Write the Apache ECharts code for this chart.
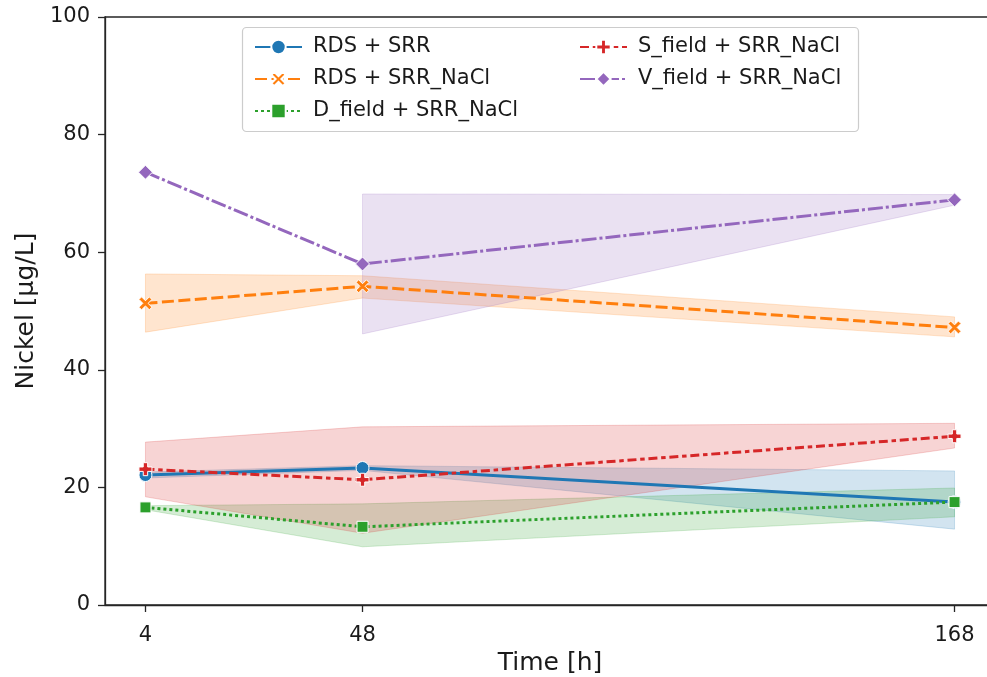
<!DOCTYPE html>
<html>
<head>
<meta charset="utf-8">
<script src="https://cdn.jsdelivr.net/npm/echarts@6/dist/echarts.min.js"></script>
<style>
  html, body { margin: 0; padding: 0; background: #fff; }
  #chart { width: 987px; height: 677px; }
</style>
</head>
<body>
<div id="chart"></div>
<script>
// time points [h]
var times = [4, 48, 168];
var xTicks = [4, 48, 168];

// mean values per series
var rdsSrr = [22.1, 23.3, 17.5];
var rdsSrrNacl = [51.3, 54.2, 47.2];
var dFieldNacl = [16.6, 13.3, 17.5];
var sFieldNacl = [23.1, 21.3, 28.7];
var vFieldNacl = [73.6, 58.0, 68.9];

// error band lower / upper
var rdsSrrLo = [21.6, 22.9, 12.9];
var rdsSrrHi = [22.6, 23.7, 22.8];
var rdsSrrNaclLo = [46.4, 52.2, 45.6];
var rdsSrrNaclHi = [56.3, 56.0, 49.0];
var dFieldNaclLo = [16.2, 9.9, 15.0];
var dFieldNaclHi = [16.9, 17.2, 19.9];
var sFieldNaclLo = [18.4, 12.2, 26.7];
var sFieldNaclHi = [27.7, 30.3, 30.9];
var vFieldNaclLo = [null, 46.1, 68.0];
var vFieldNaclHi = [null, 69.9, 69.8];

var FONT = '"DejaVu Sans", sans-serif';

var symX = 'path://M-1,-0.6 L-0.6,-1 L0,-0.4 L0.6,-1 L1,-0.6 L0.4,0 L1,0.6 L0.6,1 L0,0.4 L-0.6,1 L-1,0.6 L-0.4,0 Z';
var symP = 'path://M-0.34,-1 L0.34,-1 L0.34,-0.34 L1,-0.34 L1,0.34 L0.34,0.34 L0.34,1 L-0.34,1 L-0.34,0.34 L-1,0.34 L-1,-0.34 L-0.34,-0.34 Z';

var defs = [
  { name: 'RDS + SRR', color: '#1f77b4', vals: rdsSrr, lo: rdsSrrLo, hi: rdsSrrHi, dash: 'solid', symbol: 'circle', size: 13 },
  { name: 'RDS + SRR_NaCl', color: '#ff7f0e', vals: rdsSrrNacl, lo: rdsSrrNaclLo, hi: rdsSrrNaclHi, dash: [12, 4.5], symbol: symX, size: 13 },
  { name: 'D_field + SRR_NaCl', color: '#2ca02c', vals: dFieldNacl, lo: dFieldNaclLo, hi: dFieldNaclHi, dash: [3, 3], symbol: 'rect', size: 11 },
  { name: 'S_field + SRR_NaCl', color: '#d62728', vals: sFieldNacl, lo: sFieldNaclLo, hi: sFieldNaclHi, dash: [9, 3.75, 4.5, 3.75], symbol: symP, size: 13 },
  { name: 'V_field + SRR_NaCl', color: '#9467bd', vals: vFieldNacl, lo: vFieldNaclLo, hi: vFieldNaclHi, dash: [15, 3, 3, 3], symbol: 'diamond', size: 14 }
];

function bandSeries(d) {
  return {
    type: 'custom',
    name: d.name + ' band',
    silent: true,
    z: 1,
    encode: { x: 0, y: [1, 2] },
    data: times.map(function (t, i) { return [t, d.lo[i] == null ? '-' : d.lo[i], d.hi[i] == null ? '-' : d.hi[i]]; }),
    renderItem: function (params, api) {
      if (params.dataIndexInside !== 0) return;
      var upper = [], lower = [];
      for (var i = 0; i < params.dataInsideLength; i++) {
        var l = api.value(1, i), h = api.value(2, i);
        if (isNaN(l) || isNaN(h)) continue;
        upper.push(api.coord([api.value(0, i), h]));
        lower.unshift(api.coord([api.value(0, i), l]));
      }
      return {
        type: 'polygon',
        shape: { points: upper.concat(lower) },
        style: { fill: d.color, stroke: d.color, lineWidth: 1, opacity: 0.2 }
      };
    }
  };
}

function lineSeries(d) {
  return {
    type: 'line',
    name: d.name,
    z: 3,
    data: times.map(function (t, i) { return [t, d.vals[i]]; }),
    symbol: d.symbol,
    symbolSize: d.size,
    showAllSymbol: true,
    lineStyle: { color: d.color, width: 3, type: d.dash },
    itemStyle: { color: d.color, borderColor: '#fff', borderWidth: 1 }
  };
}

var series = [];
defs.forEach(function (d) {
  series.push(bandSeries(d));
  series.push(lineSeries(d));
});

var chart = echarts.init(document.getElementById('chart'), null, { renderer: 'canvas' });

var legendBase = {
  orient: 'vertical',
  z: 6,
  itemWidth: 47,
  itemHeight: 18,
  itemGap: 10,
  textStyle: { fontFamily: FONT, fontSize: 21, color: '#1a1a1a', padding: [0, 0, 0, 6], lineHeight: 22 },
  selectedMode: false
};

chart.setOption({
  animation: false,
  backgroundColor: '#fff',
  grid: {
    left: 105, top: 17, width: 890, height: 588,
    outerBoundsMode: 'none',
    containLabel: false,
    show: true, borderColor: '#262626', borderWidth: 1.3, backgroundColor: 'transparent'
  },
  xAxis: {
    type: 'value',
    min: -4.2,
    max: 176.2,
    name: 'Time [h]',
    nameLocation: 'middle',
    nameGap: 44,
    nameTextStyle: { fontFamily: FONT, fontSize: 25, color: '#1a1a1a' },
    splitLine: { show: false },
    axisLine: { onZero: false, lineStyle: { color: '#262626', width: 1.3 } },
    axisTick: { show: true, length: 7, customValues: xTicks, lineStyle: { color: '#262626', width: 1.3 } },
    axisLabel: { customValues: xTicks, margin: 20, fontFamily: FONT, fontSize: 21, color: '#1a1a1a' }
  },
  yAxis: {
    type: 'value',
    min: 0,
    max: 100,
    interval: 20,
    name: 'Nickel [µg/L]',
    nameLocation: 'middle',
    nameGap: 66,
    nameRotate: 90,
    nameTextStyle: { fontFamily: FONT, fontSize: 25, color: '#1a1a1a' },
    splitLine: { show: false },
    axisLine: { show: true, onZero: false, lineStyle: { color: '#262626', width: 1.3 } },
    axisTick: { show: true, length: 7, lineStyle: { color: '#262626', width: 1.3 } },
    axisLabel: { margin: 15, fontFamily: FONT, fontSize: 21, color: '#1a1a1a' }
  },
  legend: [
    Object.assign({}, legendBase, { left: 249, top: 31, data: ['RDS + SRR', 'RDS + SRR_NaCl', 'D_field + SRR_NaCl'] }),
    Object.assign({}, legendBase, { left: 574, top: 31, data: ['S_field + SRR_NaCl', 'V_field + SRR_NaCl'] })
  ],
  graphic: [{
    type: 'rect',
    z: 4,
    silent: true,
    shape: { x: 242.5, y: 27.5, width: 616, height: 104, r: 4 },
    style: { fill: 'rgba(255,255,255,0.8)', stroke: '#cccccc', lineWidth: 1.2 }
  }],
  series: series
});
</script>
</body>
</html>
